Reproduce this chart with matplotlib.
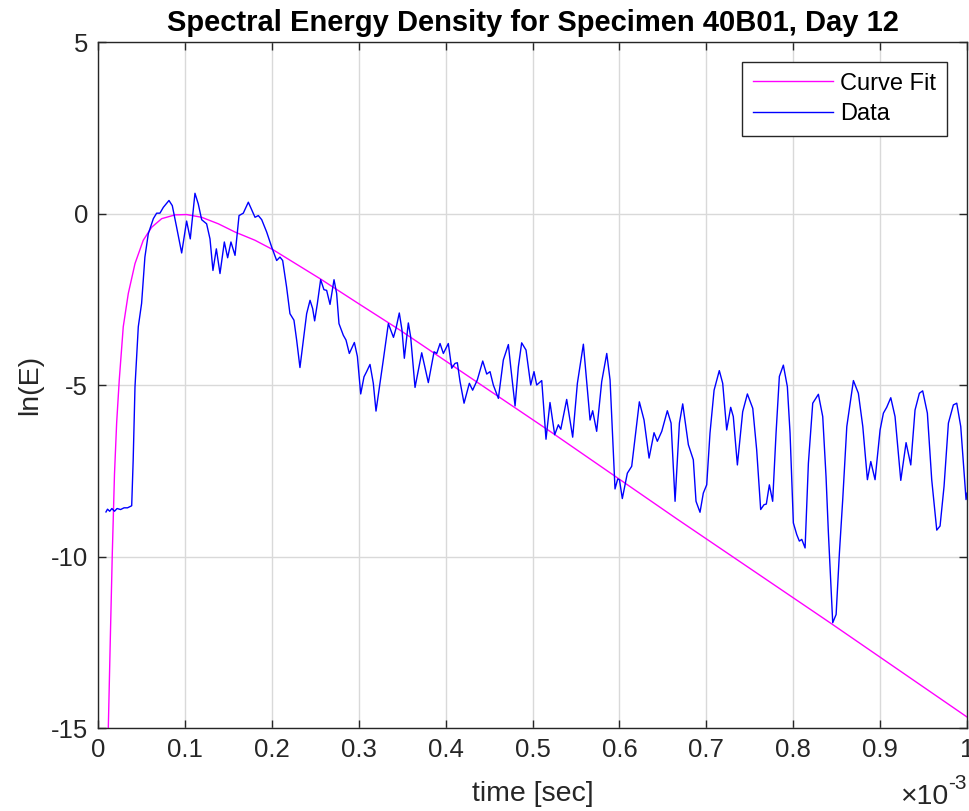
import numpy as np
import matplotlib
matplotlib.use("Agg")
import matplotlib.pyplot as plt
from matplotlib.ticker import FuncFormatter

plt.rcParams['font.family'] = ['Liberation Sans', 'DejaVu Sans']
plt.rcParams['axes.unicode_minus'] = False

# measured spectrum, time in units of 1e-3 s
data_t = [0.0092, 0.0110, 0.0135, 0.0160, 0.0190, 0.0220, 0.0260, 0.0300, 0.0340, 0.0388,
          0.0405, 0.0426, 0.0464, 0.0502, 0.0540, 0.0579, 0.0637, 0.0675, 0.0713, 0.0752,
          0.0817, 0.0855, 0.0905, 0.0963, 0.1020, 0.1062, 0.1116, 0.1154, 0.1193, 0.1250,
          0.1289, 0.1323, 0.1362, 0.1404, 0.1454, 0.1492, 0.1530, 0.1577, 0.1623, 0.1672,
          0.1730, 0.1807, 0.1845, 0.1884, 0.1941, 0.1999, 0.2056, 0.2094, 0.2125, 0.2170,
          0.2209, 0.2255, 0.2286, 0.2324, 0.2363, 0.2401, 0.2440, 0.2470, 0.2493, 0.2524,
          0.2562, 0.2600, 0.2631, 0.2670, 0.2716, 0.2746, 0.2773, 0.2823, 0.2854, 0.2892,
          0.2950, 0.2985, 0.3023, 0.3061, 0.3091, 0.3130, 0.3168, 0.3199, 0.3245, 0.3283,
          0.3341, 0.3400, 0.3429, 0.3467, 0.3498, 0.3525, 0.3571, 0.3598, 0.3648, 0.3725,
          0.3801, 0.3867, 0.3898, 0.3936, 0.3974, 0.4031, 0.4070, 0.4108, 0.4135, 0.4166,
          0.4212, 0.4273, 0.4311, 0.4365, 0.4427, 0.4473, 0.4511, 0.4549, 0.4607, 0.4664,
          0.4722, 0.4749, 0.4799, 0.4837, 0.4875, 0.4925, 0.4979, 0.5017, 0.5048, 0.5106,
          0.5155, 0.5201, 0.5255, 0.5297, 0.5325, 0.5393, 0.5462, 0.5516, 0.5585, 0.5662,
          0.5692, 0.5738, 0.5796, 0.5854, 0.5892, 0.5949, 0.5980, 0.6000, 0.6033, 0.6091,
          0.6141, 0.6229, 0.6283, 0.6341, 0.6398, 0.6436, 0.6487, 0.6551, 0.6594, 0.6640,
          0.6690, 0.6728, 0.6793, 0.6850, 0.6881, 0.6927, 0.6965, 0.7004, 0.7042, 0.7089,
          0.7149, 0.7188, 0.7234, 0.7280, 0.7310, 0.7357, 0.7418, 0.7472, 0.7534, 0.7579,
          0.7625, 0.7663, 0.7690, 0.7725, 0.7763, 0.7802, 0.7840, 0.7886, 0.7932, 0.7963,
          0.8001, 0.8040, 0.8070, 0.8098, 0.8136, 0.8174, 0.8224, 0.8289, 0.8339, 0.8377,
          0.8404, 0.8454, 0.8493, 0.8531, 0.8569, 0.8616, 0.8692, 0.8749, 0.8800, 0.8853,
          0.8892, 0.8941, 0.8999, 0.9037, 0.9075, 0.9122, 0.9171, 0.9237, 0.9298, 0.9352,
          0.9401, 0.9451, 0.9489, 0.9543, 0.9593, 0.9651, 0.9689, 0.9735, 0.9785, 0.9842,
          0.9881, 0.9927, 0.9988, 1.0000]
data_lnE = [-8.70, -8.62, -8.68, -8.60, -8.68, -8.60, -8.63, -8.58, -8.58, -8.52,
            -7.20, -5.05, -3.30, -2.62, -1.27, -0.59, -0.15, 0.01, 0.01, 0.18,
            0.38, 0.23, -0.40, -1.15, -0.22, -0.74, 0.59, 0.28, -0.18, -0.30,
            -0.74, -1.66, -1.03, -1.75, -0.83, -1.29, -0.83, -1.22, -0.06, 0.01,
            0.33, -0.11, -0.06, -0.18, -0.54, -0.98, -1.37, -1.27, -1.37, -2.14,
            -2.92, -3.11, -3.69, -4.49, -3.69, -2.92, -2.53, -2.77, -3.13, -2.63,
            -1.93, -2.22, -2.24, -2.65, -1.93, -2.33, -3.21, -3.55, -3.69, -4.08,
            -3.76, -4.17, -5.26, -4.76, -4.61, -4.40, -4.95, -5.76, -4.95, -4.27,
            -3.21, -3.61, -3.35, -2.90, -3.40, -4.22, -3.19, -3.60, -5.07, -4.06,
            -4.93, -4.03, -4.08, -3.79, -4.08, -3.79, -4.51, -4.37, -4.35, -4.90,
            -5.53, -4.95, -5.15, -4.85, -4.30, -4.68, -4.61, -5.00, -5.39, -4.27,
            -3.82, -4.47, -5.61, -4.47, -3.77, -3.98, -5.00, -4.61, -5.00, -4.87,
            -6.58, -5.51, -6.45, -6.16, -6.29, -5.42, -6.52, -4.95, -3.81, -6.02,
            -5.75, -6.35, -4.90, -4.08, -4.85, -8.03, -7.74, -7.76, -8.31, -7.57,
            -7.37, -5.49, -6.02, -7.13, -6.39, -6.64, -6.35, -5.75, -6.11, -8.39,
            -6.11, -5.55, -6.74, -7.18, -8.39, -8.71, -8.15, -7.91, -6.40, -5.15,
            -4.58, -4.95, -6.31, -5.65, -5.92, -7.33, -5.78, -5.26, -5.68, -6.89,
            -8.63, -8.49, -8.47, -7.91, -8.39, -6.40, -4.75, -4.42, -5.05, -6.40,
            -9.02, -9.36, -9.55, -9.50, -9.75, -7.28, -5.53, -5.27, -5.92, -7.67,
            -9.30, -11.93, -11.69, -9.89, -8.34, -6.21, -4.87, -5.24, -6.21, -7.76,
            -7.23, -7.76, -6.31, -5.82, -5.65, -5.37, -5.92, -7.78, -6.68, -7.33,
            -5.73, -5.24, -5.17, -5.82, -7.76, -9.23, -9.11, -7.95, -6.11, -5.58,
            -5.53, -6.21, -8.34, -8.15]

# fitted model curve
fit_t = [0.0119, 0.0142, 0.0165, 0.0190, 0.0215, 0.0245, 0.0291, 0.0349, 0.0426, 0.0521,
         0.0618, 0.0733, 0.0886, 0.1020, 0.1193, 0.1385, 0.1577, 0.1807, 0.2017, 0.2555,
         0.3000, 0.3475, 0.4200, 0.5201, 0.6659, 0.8423, 1.0000]
fit_lnE = [-15.0, -12.4, -9.9, -7.6, -6.1, -4.85, -3.30, -2.33, -1.46, -0.78,
           -0.40, -0.15, -0.04, -0.03, -0.11, -0.30, -0.54, -0.78, -1.06, -1.90,
           -2.63, -3.40, -4.64, -6.35, -8.90, -11.93, -14.68]

x_ticks = [0, 0.1, 0.2, 0.3, 0.4, 0.5, 0.6, 0.7, 0.8, 0.9, 1.0]
y_ticks = [-15, -10, -5, 0, 5]

scale = 1e-3
ink = '#262626'
fig = plt.figure(figsize=(9.7, 8.11), dpi=100)
ax = fig.add_axes([0.101, 0.1023, 0.896, 0.8459])

ax.plot(np.array(fit_t) * scale, fit_lnE, color=(1, 0, 1), lw=1.0, label='Curve Fit')
ax.plot(np.array(data_t) * scale, data_lnE, color=(0, 0, 1), lw=1.0, label='Data')

ax.set_xlim(0, 1e-3)
ax.set_ylim(-15, 5)
ax.set_xticks(np.array(x_ticks) * scale)
ax.set_yticks(y_ticks)
ax.xaxis.set_major_formatter(FuncFormatter(lambda v, p: f"{v / scale:g}"))

ax.grid(True, color='#d9d9d9', lw=1.0)
ax.set_axisbelow(True)
for s in ax.spines.values():
    s.set_color(ink)
    s.set_linewidth(1.0)
ax.tick_params(direction='in', length=6, width=1.0, color=ink,
               top=True, right=True, labelsize=18.5, labelcolor=ink, pad=7)

ax.set_title('Spectral Energy Density for Specimen 40B01, Day 12',
             fontsize=21, fontweight='bold', pad=8)
ax.set_xlabel('time [sec]', fontsize=20.5, color=ink, labelpad=14)
ax.set_ylabel('ln(E)', fontsize=20.5, color=ink, labelpad=6)

# exponent for the time axis
ax.text(0.978, -0.1105, '\u00d710', transform=ax.transAxes, ha='right', va='baseline',
        fontsize=20.5, color=ink)
ax.text(0.978, -0.089, '-3', transform=ax.transAxes, ha='left', va='baseline',
        fontsize=15, color=ink)

leg = ax.legend(loc='upper right', fontsize=17, fancybox=False, framealpha=1,
                edgecolor=ink, borderaxespad=0.85, handlelength=3.4,
                borderpad=0.45, labelspacing=0.35, handletextpad=0.3)
leg.get_frame().set_linewidth(1.0)

fig.savefig('out.png', dpi=100)
